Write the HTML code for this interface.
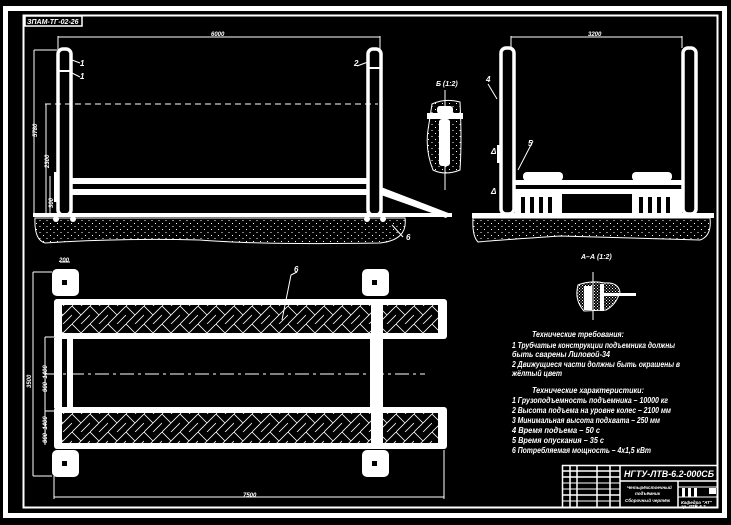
<!DOCTYPE html>
<html><head><meta charset="utf-8"><style>
html,body{margin:0;padding:0;background:#000;}
svg{display:block;}
text{font-family:"Liberation Sans","DejaVu Sans",sans-serif;fill:#fff;font-style:italic;font-weight:bold;}
</style></head><body>
<svg width="731" height="525" viewBox="0 0 731 525" xmlns="http://www.w3.org/2000/svg">
<defs>
<pattern id="dots" width="7" height="6" patternUnits="userSpaceOnUse"><rect x="1" y="1" width="1" height="1" fill="#fff"/><rect x="4.5" y="4" width="1" height="1" fill="#fff"/></pattern>
<pattern id="herr" width="18" height="18" patternUnits="userSpaceOnUse">
<path d="M0 18 L18 0 M0 0 L9 9 M9 18 L18 9" stroke="#fff" stroke-width="0.8" fill="none"/></pattern>
<pattern id="xh" width="3" height="3" patternUnits="userSpaceOnUse"><rect width="1" height="1" fill="#fff"/><rect x="1.5" y="1.5" width="1" height="1" fill="#fff"/></pattern>
</defs>
<rect width="731" height="525" fill="#000"/>
<!-- frame -->
<rect x="5.5" y="8.5" width="719" height="507" fill="none" stroke="#fff" stroke-width="5"/>
<rect x="23.5" y="15.5" width="694" height="492" fill="none" stroke="#fff" stroke-width="2"/>
<rect x="25" y="16" width="57" height="10" fill="none" stroke="#fff" stroke-width="1.5"/>
<text x="27" y="24" font-size="7" font-style="normal">ЗПАМ-ТГ-02-26</text>

<!-- FRONT VIEW -->
<g fill="none" stroke="#fff">
<line x1="58" y1="37" x2="380" y2="37" stroke-width="1"/>
<line x1="58" y1="36" x2="58" y2="50" stroke-width="1"/>
<line x1="380" y1="36" x2="380" y2="50" stroke-width="1"/>
<line x1="34" y1="50" x2="57" y2="50" stroke-width="1"/>
<line x1="34" y1="50" x2="34" y2="215" stroke-width="1"/>
<line x1="46" y1="104" x2="46" y2="215" stroke-width="1"/>
<line x1="50" y1="176" x2="50" y2="215" stroke-width="1"/>
<line x1="45" y1="104" x2="378" y2="104" stroke-width="1" stroke-dasharray="6,4"/>
<rect x="58" y="49" width="13" height="166" rx="5" stroke-width="3.5"/>
<rect x="368" y="49" width="13" height="166" rx="5" stroke-width="3.5"/>
<line x1="71" y1="71" x2="58" y2="71" stroke-width="2"/>
<line x1="368" y1="68" x2="381" y2="68" stroke-width="2"/>
<path d="M80 63 L72 60 M80 77 L72 73 M357 66 L368 62 M403 237 L392 225" stroke-width="1"/>
</g>
<rect x="71" y="178" width="297" height="6" fill="#fff"/>
<rect x="71" y="189" width="297" height="6" fill="#fff"/>
<rect x="54" y="172" width="4" height="30" fill="#fff"/>
<polygon points="381,187 381,195 446,218 451,214" fill="#fff"/>
<path d="M35 218 L405 218 Q408 240 380 243 Q260 245 200 240 Q120 238 45 243 Q34 240 35 218Z" fill="url(#dots)" stroke="#fff" stroke-width="1"/>
<rect x="33" y="213" width="419" height="4" fill="#fff"/>
<circle cx="56" cy="219" r="3" fill="#fff"/><circle cx="73" cy="219" r="3" fill="#fff"/>
<circle cx="367" cy="219" r="3" fill="#fff"/><circle cx="383" cy="219" r="3" fill="#fff"/>
<text x="211" y="36" font-size="6" font-style="normal">6000</text>
<text x="80" y="66" font-size="8">1</text><text x="80" y="79" font-size="8">1</text>
<text x="354" y="66" font-size="8">2</text><text x="406" y="240" font-size="8">6</text>
<text transform="translate(37,137) rotate(-90)" font-size="6" font-style="normal">5780</text>
<text transform="translate(49,168) rotate(-90)" font-size="6" font-style="normal">2300</text>
<text transform="translate(53,208) rotate(-90)" font-size="6" font-style="normal">300</text>

<!-- detail B -->
<text x="436" y="86" font-size="7">Б (1:2)</text>
<line x1="445" y1="90" x2="445" y2="190" stroke="#fff" stroke-width="1"/>
<path d="M432 104 Q445 98 460 102 Q462 140 460 170 Q445 176 433 170 Q425 150 428 130 Z" fill="url(#dots)" stroke="#fff" stroke-width="1"/>
<rect x="427" y="113" width="36" height="6" fill="#fff"/>
<rect x="437" y="106" width="16" height="8" rx="3" fill="#fff"/>
<rect x="439" y="119" width="11" height="47" rx="3" fill="#fff"/>

<!-- SIDE VIEW -->
<g fill="none" stroke="#fff">
<line x1="511" y1="37" x2="682" y2="37" stroke-width="1"/>
<line x1="511" y1="36" x2="511" y2="48" stroke-width="1"/>
<line x1="682" y1="36" x2="682" y2="48" stroke-width="1"/>
<rect x="501" y="48" width="13" height="166" rx="5" stroke-width="3.5"/>
<rect x="683" y="48" width="13" height="166" rx="5" stroke-width="3.5"/>
<path d="M488 84 L497 99 M533 141 L518 170" stroke-width="1"/>
</g>
<rect x="514" y="180" width="169" height="5" fill="#fff"/>
<rect x="514" y="189" width="169" height="5" fill="#fff"/>
<rect x="523" y="172" width="40" height="9" rx="4" fill="#fff"/>
<rect x="632" y="172" width="40" height="9" rx="4" fill="#fff"/>
<g fill="#fff">
<rect x="515" y="194" width="47" height="20"/><rect x="632" y="194" width="50" height="20"/>
</g>
<g fill="#000">
<rect x="521" y="197" width="4" height="16"/><rect x="530" y="197" width="4" height="16"/><rect x="539" y="197" width="4" height="16"/><rect x="548" y="197" width="4" height="16"/>
<rect x="639" y="197" width="4" height="16"/><rect x="648" y="197" width="4" height="16"/><rect x="657" y="197" width="4" height="16"/><rect x="666" y="197" width="4" height="16"/>
</g>
<rect x="497" y="145" width="5" height="18" fill="#fff"/>
<path d="M473 218 L710 218 Q712 236 700 240 Q640 238 560 236 Q500 240 478 242 Q472 236 473 218Z" fill="url(#dots)" stroke="#fff" stroke-width="1"/>
<rect x="472" y="213" width="242" height="5" fill="#fff"/>
<text x="486" y="82" font-size="8">4</text><text x="528" y="146" font-size="8">5</text>
<text x="491" y="154" font-size="8" font-style="normal">Δ</text><text x="491" y="194" font-size="8" font-style="normal">Δ</text>
<text x="588" y="36" font-size="6" font-style="normal">3200</text>

<!-- A-A -->
<text x="581" y="259" font-size="7">А–А (1:2)</text>
<line x1="593" y1="272" x2="593" y2="320" stroke="#fff" stroke-width="1"/>
<path d="M578 285 Q590 280 605 283 Q618 282 620 292 Q616 305 606 310 L584 311 Q574 300 578 285Z" fill="url(#xh)" stroke="#fff" stroke-width="1"/>
<rect x="584" y="286" width="8" height="24" fill="#fff"/><rect x="600" y="284" width="4" height="27" fill="#fff"/>
<rect x="604" y="293" width="32" height="3" fill="#fff"/>

<!-- PLAN VIEW -->
<g fill="#fff">
<rect x="52" y="269" width="27" height="27" rx="5"/><rect x="362" y="269" width="27" height="27" rx="5"/>
<rect x="52" y="450" width="27" height="27" rx="5"/><rect x="362" y="450" width="27" height="27" rx="5"/>
<rect x="54" y="299" width="393" height="40" rx="3"/>
<rect x="54" y="407" width="393" height="42" rx="3"/>
<rect x="54" y="338" width="19" height="70"/><rect x="370" y="338" width="13" height="70"/>
</g>
<g fill="#000">
<rect x="62" y="280" width="5" height="5"/><rect x="372" y="280" width="5" height="5"/>
<rect x="62" y="461" width="5" height="5"/><rect x="372" y="461" width="5" height="5"/>
<rect x="73" y="339" width="297" height="68"/>
</g>
<rect x="62" y="305" width="309" height="28" fill="#000"/><rect x="62" y="305" width="309" height="28" fill="url(#herr)"/>
<rect x="383" y="305" width="55" height="28" fill="#000"/><rect x="383" y="305" width="55" height="28" fill="url(#herr)"/>
<rect x="62" y="413" width="309" height="30" fill="#000"/><rect x="62" y="413" width="309" height="30" fill="url(#herr)"/>
<rect x="383" y="413" width="55" height="30" fill="#000"/><rect x="383" y="413" width="55" height="30" fill="url(#herr)"/>
<rect x="62" y="339" width="5" height="68" fill="#000"/>
<line x1="45" y1="374" x2="425" y2="374" stroke="#fff" stroke-width="1" stroke-dasharray="14,4,3,4"/>
<g stroke="#fff" stroke-width="1" fill="none">
<line x1="33" y1="272" x2="33" y2="476"/><line x1="33" y1="272" x2="52" y2="272"/><line x1="33" y1="476" x2="52" y2="476"/>
<line x1="45" y1="337" x2="45" y2="445"/><line x1="45" y1="337" x2="55" y2="337"/><line x1="45" y1="411" x2="55" y2="411"/>
<line x1="54" y1="476" x2="54" y2="499"/><line x1="444" y1="450" x2="444" y2="499"/><line x1="54" y1="497" x2="444" y2="497"/>
<line x1="60" y1="262" x2="70" y2="262"/>
<path d="M297 272 L291 275 L282 320"/>
</g>
<text x="59" y="262" font-size="6" font-style="normal">200</text>
<text x="294" y="272" font-size="8">6</text>
<text transform="translate(31,388) rotate(-90)" font-size="6" font-style="normal">3500</text>
<text transform="translate(47,392) rotate(-90)" font-size="6" font-style="normal">900–1400</text>
<text transform="translate(47,443) rotate(-90)" font-size="6" font-style="normal">900–1400</text>
<text x="243" y="497" font-size="6" font-style="normal">7500</text>

<!-- TEXT -->
<g font-size="8" lengthAdjust="spacingAndGlyphs">
<text x="532" y="337" textLength="92" lengthAdjust="spacingAndGlyphs">Технические требования:</text>
<text x="512" y="348" textLength="163" lengthAdjust="spacingAndGlyphs">1 Трубчатые конструкции подъемника должны</text>
<text x="512" y="357" textLength="98" lengthAdjust="spacingAndGlyphs">быть сварены Лиловой-34</text>
<text x="512" y="367" textLength="168" lengthAdjust="spacingAndGlyphs">2 Движущиеся части должны быть окрашены в</text>
<text x="512" y="376" textLength="50" lengthAdjust="spacingAndGlyphs">жёлтый цвет</text>
<text x="532" y="393" textLength="112" lengthAdjust="spacingAndGlyphs">Технические характеристики:</text>
<text x="512" y="403" textLength="156" lengthAdjust="spacingAndGlyphs">1 Грузоподъемность подъемника – 10000 кг</text>
<text x="512" y="413" textLength="159" lengthAdjust="spacingAndGlyphs">2 Высота подъема на уровне колес – 2100 мм</text>
<text x="512" y="423" textLength="148" lengthAdjust="spacingAndGlyphs">3 Минимальная высота подхвата – 250 мм</text>
<text x="512" y="433" textLength="88" lengthAdjust="spacingAndGlyphs">4 Время подъема – 50 с</text>
<text x="512" y="443" textLength="92" lengthAdjust="spacingAndGlyphs">5 Время опускания – 35 с</text>
<text x="512" y="453" textLength="139" lengthAdjust="spacingAndGlyphs">6 Потребляемая мощность – 4х1,5 кВт</text>
</g>

<!-- TITLE BLOCK -->
<g stroke="#fff" fill="none">
<rect x="562.5" y="465.5" width="155" height="42" stroke-width="1.5"/>
<line x1="620" y1="465" x2="620" y2="508" stroke-width="1.5"/>
<line x1="620" y1="481" x2="718" y2="481" stroke-width="1.5"/>
<line x1="678" y1="481" x2="678" y2="508" stroke-width="1.5"/>
<line x1="678" y1="497" x2="718" y2="497" stroke-width="1"/>
<line x1="570" y1="465" x2="570" y2="508" stroke-width="1.5"/>
<line x1="577" y1="465" x2="577" y2="508" stroke-width="1.5"/>
<line x1="597" y1="465" x2="597" y2="508" stroke-width="1.5"/>
<line x1="610" y1="465" x2="610" y2="508" stroke-width="1.5"/>
<line x1="562" y1="471" x2="620" y2="471" stroke-width="1.5"/>
<line x1="562" y1="477" x2="620" y2="477" stroke-width="1.5"/>
<line x1="562" y1="483" x2="620" y2="483" stroke-width="1"/>
<line x1="562" y1="489" x2="620" y2="489" stroke-width="1"/>
<line x1="562" y1="495" x2="620" y2="495" stroke-width="1.5"/>
<line x1="562" y1="501" x2="620" y2="501" stroke-width="1"/>
<line x1="678" y1="487" x2="718" y2="487" stroke-width="1"/>
</g>
<rect x="682" y="488" width="3" height="9" fill="#fff"/><rect x="688" y="488" width="3" height="9" fill="#fff"/><rect x="694" y="488" width="3" height="9" fill="#fff"/><rect x="709" y="488" width="7" height="6" fill="#fff"/>
<text x="624" y="477" font-size="9" textLength="90" lengthAdjust="spacingAndGlyphs">НГТУ-ЛТВ-6.2-000СБ</text>
<g font-size="4.5" font-weight="normal">
<text x="627" y="489">Четырёхстоечный</text><text x="635" y="495">подъёмник</text><text x="625" y="502">Сборочный чертёж</text>
<text x="681" y="504">Кафедра "АТ"</text><text x="681" y="508">гр. ЛТВ-6.2</text>
</g>
</svg>
</body></html>
